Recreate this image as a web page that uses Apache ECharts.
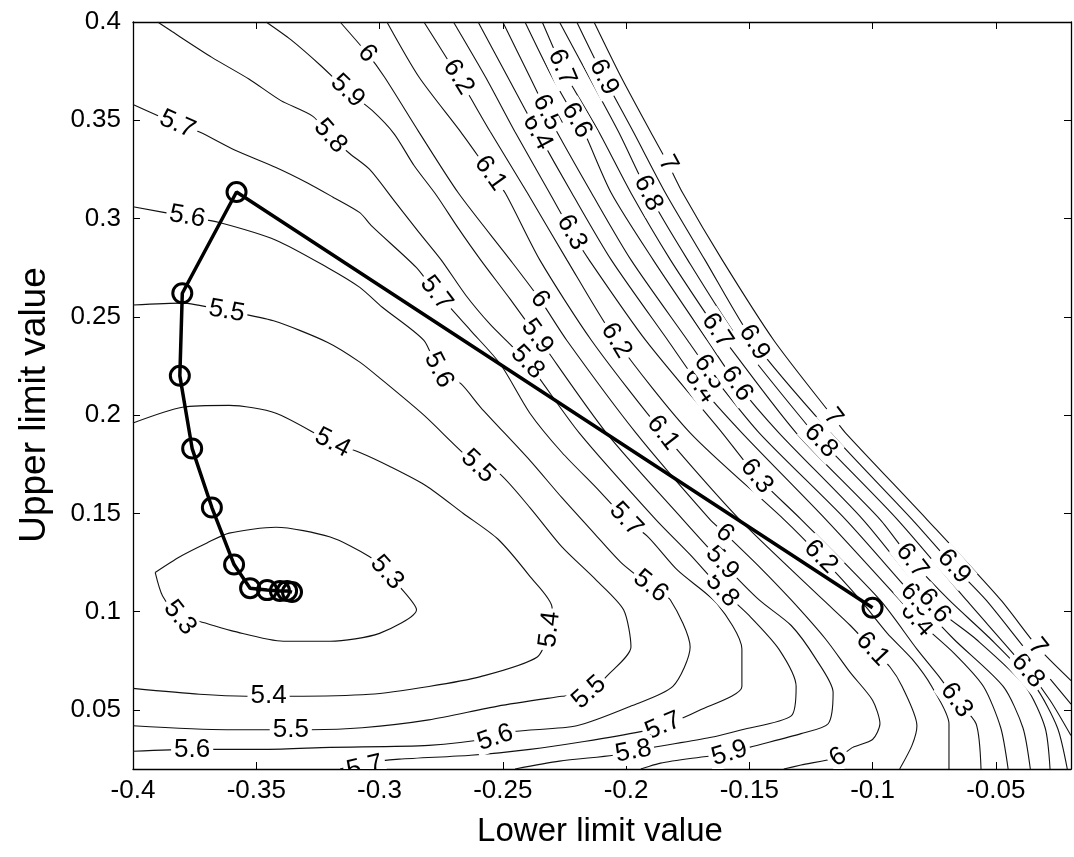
<!DOCTYPE html>
<html>
<head>
<meta charset="utf-8">
<title>Contour of objective with search path</title>
<script src="https://cdn.jsdelivr.net/npm/echarts@6/dist/echarts.min.js"></script>
<style>
  html, body { margin: 0; padding: 0; background: #fff; }
  #chart { width: 1074px; height: 857px; }
</style>
</head>
<body>
<div id="chart"></div>
<script>
// Axis ticks
const xTicks = [-0.4, -0.35, -0.3, -0.25, -0.2, -0.15, -0.1, -0.05];
const yTicks = [0.05, 0.1, 0.15, 0.2, 0.25, 0.3, 0.35, 0.4];

// Contour lines, [lower limit, upper limit] per level
const c53 = [[-0.391,0.120],[-0.388,0.108],[-0.381,0.097],[-0.373,0.095],[-0.359,0.090],[-0.339,0.085],[-0.320,0.085],[-0.300,0.089],[-0.285,0.101],[-0.292,0.113],[-0.297,0.120],[-0.304,0.128],[-0.320,0.138],[-0.342,0.143],[-0.361,0.140],[-0.370,0.135],[-0.381,0.128],[-0.391,0.120]];
const c54 = [[-0.400,0.196],[-0.380,0.204],[-0.361,0.205],[-0.342,0.201],[-0.319,0.186],[-0.308,0.181],[-0.296,0.174],[-0.281,0.164],[-0.266,0.150],[-0.252,0.137],[-0.239,0.118],[-0.230,0.102],[-0.231,0.091],[-0.236,0.077],[-0.259,0.067],[-0.280,0.062],[-0.304,0.058],[-0.336,0.057],[-0.354,0.057],[-0.373,0.058],[-0.400,0.061]];
const c55 = [[-0.400,0.256],[-0.380,0.257],[-0.362,0.253],[-0.343,0.248],[-0.321,0.237],[-0.308,0.227],[-0.300,0.219],[-0.282,0.200],[-0.260,0.174],[-0.252,0.171],[-0.239,0.153],[-0.226,0.133],[-0.212,0.116],[-0.201,0.101],[-0.198,0.082],[-0.208,0.067],[-0.215,0.059],[-0.226,0.057],[-0.252,0.052],[-0.280,0.045],[-0.307,0.041],[-0.328,0.040],[-0.362,0.040],[-0.400,0.042]];
const c56 = [[-0.400,0.306],[-0.378,0.301],[-0.365,0.298],[-0.342,0.289],[-0.321,0.275],[-0.308,0.265],[-0.299,0.255],[-0.282,0.238],[-0.276,0.223],[-0.267,0.216],[-0.259,0.204],[-0.239,0.177],[-0.226,0.158],[-0.213,0.140],[-0.202,0.125],[-0.190,0.113],[-0.182,0.106],[-0.174,0.082],[-0.181,0.062],[-0.198,0.052],[-0.220,0.042],[-0.246,0.039],[-0.253,0.036],[-0.280,0.032],[-0.320,0.031],[-0.346,0.030],[-0.376,0.030],[-0.400,0.029]];
const c57 = [[-0.400,0.358],[-0.382,0.348],[-0.373,0.344],[-0.359,0.335],[-0.342,0.326],[-0.329,0.318],[-0.319,0.311],[-0.308,0.303],[-0.303,0.296],[-0.285,0.275],[-0.277,0.262],[-0.273,0.257],[-0.263,0.243],[-0.251,0.226],[-0.239,0.201],[-0.226,0.181],[-0.212,0.163],[-0.200,0.147],[-0.191,0.138],[-0.179,0.121],[-0.163,0.104],[-0.153,0.081],[-0.153,0.062],[-0.170,0.050],[-0.185,0.042],[-0.194,0.039],[-0.217,0.034],[-0.239,0.030],[-0.263,0.027],[-0.292,0.025],[-0.306,0.023],[-0.316,0.020]];
const c58 = [[-0.390,0.400],[-0.384,0.395],[-0.368,0.382],[-0.353,0.371],[-0.340,0.360],[-0.327,0.352],[-0.320,0.342],[-0.312,0.333],[-0.304,0.325],[-0.294,0.309],[-0.284,0.293],[-0.275,0.279],[-0.265,0.261],[-0.255,0.246],[-0.247,0.236],[-0.240,0.227],[-0.219,0.191],[-0.188,0.147],[-0.174,0.129],[-0.161,0.111],[-0.150,0.098],[-0.138,0.081],[-0.131,0.062],[-0.133,0.047],[-0.153,0.040],[-0.166,0.036],[-0.189,0.031],[-0.197,0.029],[-0.205,0.027],[-0.227,0.024],[-0.245,0.020]];
const c59 = [[-0.346,0.400],[-0.336,0.391],[-0.324,0.378],[-0.313,0.365],[-0.303,0.355],[-0.294,0.343],[-0.286,0.327],[-0.277,0.312],[-0.268,0.295],[-0.259,0.279],[-0.247,0.259],[-0.236,0.240],[-0.208,0.191],[-0.177,0.147],[-0.161,0.125],[-0.146,0.106],[-0.133,0.093],[-0.123,0.076],[-0.116,0.059],[-0.118,0.043],[-0.129,0.038],[-0.150,0.031],[-0.158,0.028],[-0.170,0.026],[-0.186,0.023],[-0.194,0.020]];
const c60 = [[-0.316,0.400],[-0.305,0.384],[-0.298,0.372],[-0.284,0.344],[-0.268,0.313],[-0.247,0.279],[-0.235,0.259],[-0.224,0.238],[-0.196,0.191],[-0.166,0.147],[-0.160,0.140],[-0.146,0.123],[-0.133,0.106],[-0.119,0.086],[-0.109,0.069],[-0.100,0.055],[-0.097,0.043],[-0.100,0.035],[-0.108,0.031],[-0.114,0.026],[-0.129,0.022],[-0.136,0.020]];
const c61 = [[-0.297,0.400],[-0.284,0.372],[-0.267,0.344],[-0.255,0.323],[-0.249,0.313],[-0.235,0.279],[-0.214,0.238],[-0.185,0.191],[-0.154,0.147],[-0.120,0.106],[-0.109,0.093],[-0.100,0.081],[-0.093,0.072],[-0.088,0.062],[-0.082,0.042],[-0.084,0.032],[-0.089,0.020]];
const c62 = [[-0.282,0.400],[-0.268,0.372],[-0.255,0.344],[-0.240,0.313],[-0.224,0.279],[-0.204,0.238],[-0.174,0.191],[-0.136,0.147],[-0.121,0.128],[-0.105,0.106],[-0.094,0.089],[-0.084,0.076],[-0.076,0.062],[-0.069,0.043],[-0.069,0.020]];
const c63 = [[-0.270,0.400],[-0.257,0.372],[-0.245,0.344],[-0.231,0.313],[-0.222,0.293],[-0.215,0.279],[-0.192,0.238],[-0.161,0.191],[-0.147,0.169],[-0.129,0.147],[-0.097,0.106],[-0.082,0.081],[-0.073,0.067],[-0.066,0.055],[-0.058,0.043],[-0.056,0.020]];
const c64 = [[-0.260,0.400],[-0.248,0.372],[-0.236,0.344],[-0.222,0.313],[-0.206,0.279],[-0.183,0.238],[-0.170,0.215],[-0.153,0.191],[-0.119,0.147],[-0.089,0.106],[-0.082,0.096],[-0.067,0.079],[-0.055,0.062],[-0.048,0.041],[-0.045,0.020]];
const c65 = [[-0.250,0.400],[-0.239,0.372],[-0.232,0.354],[-0.228,0.344],[-0.214,0.313],[-0.198,0.279],[-0.175,0.238],[-0.166,0.222],[-0.146,0.191],[-0.111,0.147],[-0.082,0.106],[-0.067,0.086],[-0.047,0.062],[-0.039,0.041],[-0.036,0.020]];
const c66 = [[-0.241,0.400],[-0.230,0.372],[-0.220,0.350],[-0.217,0.344],[-0.206,0.313],[-0.189,0.279],[-0.167,0.238],[-0.155,0.216],[-0.138,0.191],[-0.104,0.147],[-0.075,0.103],[-0.058,0.086],[-0.038,0.062],[-0.030,0.041],[-0.028,0.020]];
const c67 = [[-0.234,0.400],[-0.226,0.377],[-0.224,0.372],[-0.211,0.344],[-0.198,0.313],[-0.182,0.279],[-0.163,0.243],[-0.160,0.238],[-0.131,0.191],[-0.097,0.147],[-0.084,0.126],[-0.069,0.106],[-0.052,0.086],[-0.034,0.062],[-0.025,0.041],[-0.021,0.020]];
const c68 = [[-0.227,0.400],[-0.215,0.372],[-0.203,0.344],[-0.191,0.313],[-0.175,0.279],[-0.154,0.238],[-0.124,0.191],[-0.121,0.187],[-0.090,0.147],[-0.062,0.106],[-0.037,0.070],[-0.028,0.055],[-0.0195,0.037]];
const c69 = [[-0.220,0.400],[-0.209,0.372],[-0.197,0.344],[-0.184,0.313],[-0.168,0.279],[-0.148,0.237],[-0.117,0.191],[-0.084,0.147],[-0.067,0.123],[-0.054,0.106],[-0.038,0.081],[-0.0195,0.053]];
const c70 = [[-0.213,0.400],[-0.202,0.372],[-0.190,0.344],[-0.183,0.328],[-0.177,0.313],[-0.161,0.279],[-0.140,0.238],[-0.116,0.199],[-0.111,0.191],[-0.078,0.147],[-0.048,0.106],[-0.033,0.082],[-0.0195,0.065]];

// Inline level labels: [lower limit, upper limit, level]
const contourLabels = [
  [-0.381,0.097,'5.3'], [-0.297,0.120,'5.3'],
  [-0.319,0.186,'5.4'], [-0.231,0.091,'5.4'], [-0.345,0.057,'5.4'],
  [-0.362,0.253,'5.5'], [-0.260,0.174,'5.5'], [-0.215,0.059,'5.5'], [-0.336,0.040,'5.5'],
  [-0.378,0.301,'5.6'], [-0.276,0.223,'5.6'], [-0.190,0.113,'5.6'], [-0.253,0.036,'5.6'], [-0.376,0.030,'5.6'],
  [-0.382,0.348,'5.7'], [-0.277,0.262,'5.7'], [-0.200,0.147,'5.7'], [-0.185,0.042,'5.7'], [-0.306,0.021,'5.7'],
  [-0.320,0.342,'5.8'], [-0.240,0.227,'5.8'], [-0.161,0.111,'5.8'], [-0.197,0.029,'5.8'],
  [-0.313,0.365,'5.9'], [-0.236,0.240,'5.9'], [-0.161,0.125,'5.9'], [-0.158,0.028,'5.9'],
  [-0.305,0.384,'6'], [-0.235,0.259,'6'], [-0.160,0.140,'6'], [-0.114,0.026,'6'],
  [-0.255,0.323,'6.1'], [-0.185,0.191,'6.1'], [-0.100,0.081,'6.1'],
  [-0.268,0.372,'6.2'], [-0.204,0.238,'6.2'], [-0.121,0.128,'6.2'],
  [-0.222,0.293,'6.3'], [-0.147,0.169,'6.3'], [-0.066,0.055,'6.3'],
  [-0.236,0.344,'6.4'], [-0.170,0.215,'6.4'], [-0.082,0.096,'6.4'],
  [-0.232,0.354,'6.5'], [-0.166,0.222,'6.5'], [-0.082,0.106,'6.5'],
  [-0.220,0.350,'6.6'], [-0.155,0.216,'6.6'], [-0.075,0.103,'6.6'],
  [-0.226,0.377,'6.7'], [-0.163,0.243,'6.7'], [-0.084,0.126,'6.7'],
  [-0.191,0.313,'6.8'], [-0.121,0.187,'6.8'], [-0.037,0.070,'6.8'],
  [-0.209,0.372,'6.9'], [-0.148,0.237,'6.9'], [-0.067,0.123,'6.9'],
  [-0.183,0.328,'7'], [-0.116,0.199,'7'], [-0.033,0.082,'7']
];

// Search path, from the starting guess to the converged point
const searchPath = [[-0.100,0.102],[-0.358,0.3135],[-0.380,0.262],[-0.381,0.220],[-0.376,0.183],[-0.368,0.153],[-0.359,0.124],[-0.3525,0.112],[-0.3456,0.111],[-0.3404,0.1106],[-0.3375,0.1106],[-0.3355,0.110]];

const levelLines = {
  '5.3': c53, '5.4': c54, '5.5': c55, '5.6': c56, '5.7': c57, '5.8': c58, '5.9': c59,
  '6': c60, '6.1': c61, '6.2': c62, '6.3': c63, '6.4': c64, '6.5': c65, '6.6': c66,
  '6.7': c67, '6.8': c68, '6.9': c69, '7': c70
};

const FONT = '"Liberation Sans", Arial, sans-serif';

// Direction of the contour at a label, so the text follows the line
function lineAngle(api, pts, p) {
  let best = Infinity, ang = 0;
  for (let i = 0; i < pts.length - 1; i++) {
    const a = api.coord(pts[i]), b = api.coord(pts[i + 1]);
    const dx = b[0] - a[0], dy = b[1] - a[1];
    const len2 = dx * dx + dy * dy || 1;
    let t = ((p[0] - a[0]) * dx + (p[1] - a[1]) * dy) / len2;
    t = Math.max(0, Math.min(1, t));
    const qx = a[0] + t * dx, qy = a[1] + t * dy;
    const d = (p[0] - qx) * (p[0] - qx) + (p[1] - qy) * (p[1] - qy);
    if (d < best) { best = d; ang = Math.atan2(-dy, dx); }
  }
  if (ang > Math.PI / 2) ang -= Math.PI;
  if (ang <= -Math.PI / 2) ang += Math.PI;
  return ang;
}

const contourSeries = Object.keys(levelLines).map(k => ({
  type: 'line',
  name: k,
  data: levelLines[k],
  showSymbol: false,
  smooth: 0.25,
  z: 2,
  silent: true,
  lineStyle: { color: '#111', width: 1.1 }
}));

const chart = echarts.init(document.getElementById('chart'), null, { renderer: 'canvas' });

const xCommon = { type: 'value', min: -0.4, max: -0.0195, splitLine: { show: false } };
const yCommon = { type: 'value', min: 0.02, max: 0.4, splitLine: { show: false } };

chart.setOption({
  animation: false,
  backgroundColor: '#fff',
  grid: { left: 133, right: 3, top: 22, bottom: 88 },
  xAxis: [
    Object.assign({}, xCommon, {
      position: 'bottom',
      axisLine: { show: true, onZero: false, lineStyle: { color: '#000', width: 1.3 } },
      axisTick: { show: true, inside: true, length: 7, customValues: xTicks, lineStyle: { color: '#000' } },
      axisLabel: { show: true, customValues: xTicks, formatter: v => String(v), margin: 9,
                   fontSize: 26, fontFamily: FONT, color: '#000' }
    }),
    Object.assign({}, xCommon, {
      position: 'top',
      axisLine: { show: true, onZero: false, lineStyle: { color: '#000', width: 1.3 } },
      axisTick: { show: true, inside: true, length: 7, customValues: xTicks, lineStyle: { color: '#000' } },
      axisLabel: { show: false }
    })
  ],
  yAxis: [
    Object.assign({}, yCommon, {
      position: 'left',
      axisLine: { show: true, onZero: false, lineStyle: { color: '#000', width: 1.3 } },
      axisTick: { show: true, inside: true, length: 7, customValues: yTicks, lineStyle: { color: '#000' } },
      axisLabel: { show: true, customValues: yTicks, formatter: v => String(v), margin: 12,
                   fontSize: 26, fontFamily: FONT, color: '#000' }
    }),
    Object.assign({}, yCommon, {
      position: 'right',
      axisLine: { show: true, onZero: false, lineStyle: { color: '#000', width: 1.3 } },
      axisTick: { show: true, inside: true, length: 7, customValues: yTicks, lineStyle: { color: '#000' } },
      axisLabel: { show: false }
    })
  ],
  graphic: [
    {
      type: 'text', x: 600, y: 832, silent: true,
      style: { text: 'Lower limit value', fontSize: 33, fontFamily: FONT, fill: '#000',
               align: 'center', verticalAlign: 'middle', textAlign: 'center', textVerticalAlign: 'middle' }
    },
    {
      type: 'text', x: 35, y: 405, rotation: Math.PI / 2, silent: true,
      style: { text: 'Upper limit value', fontSize: 37, fontFamily: FONT, fill: '#000',
               align: 'center', verticalAlign: 'middle', textAlign: 'center', textVerticalAlign: 'middle' }
    }
  ],
  series: contourSeries.concat([
    {
      type: 'custom',
      name: 'levels',
      coordinateSystem: 'cartesian2d',
      data: contourLabels.map(d => [d[0], d[1]]),
      encode: { x: 0, y: 1 },
      z: 3,
      silent: true,
      clip: true,
      renderItem: function (params, api) {
        const d = contourLabels[params.dataIndex];
        const p = api.coord([d[0], d[1]]);
        const rot = lineAngle(api, levelLines[d[2]], p);
        return {
          type: 'text',
          x: p[0], y: p[1],
          rotation: rot,
          style: {
            text: d[2], fontSize: 26, fontFamily: FONT, fill: '#000',
            align: 'center', verticalAlign: 'middle',
            textAlign: 'center', textVerticalAlign: 'middle',
            backgroundColor: '#fff', padding: [0, 3]
          }
        };
      }
    },
    {
      type: 'line',
      name: 'path',
      data: searchPath,
      z: 5,
      silent: true,
      symbol: 'circle',
      symbolSize: 19,
      showAllSymbol: true,
      lineStyle: { color: '#000', width: 3.5 },
      itemStyle: { color: 'rgba(0,0,0,0)', borderColor: '#000', borderWidth: 3 }
    }
  ])
});
</script>
</body>
</html>
